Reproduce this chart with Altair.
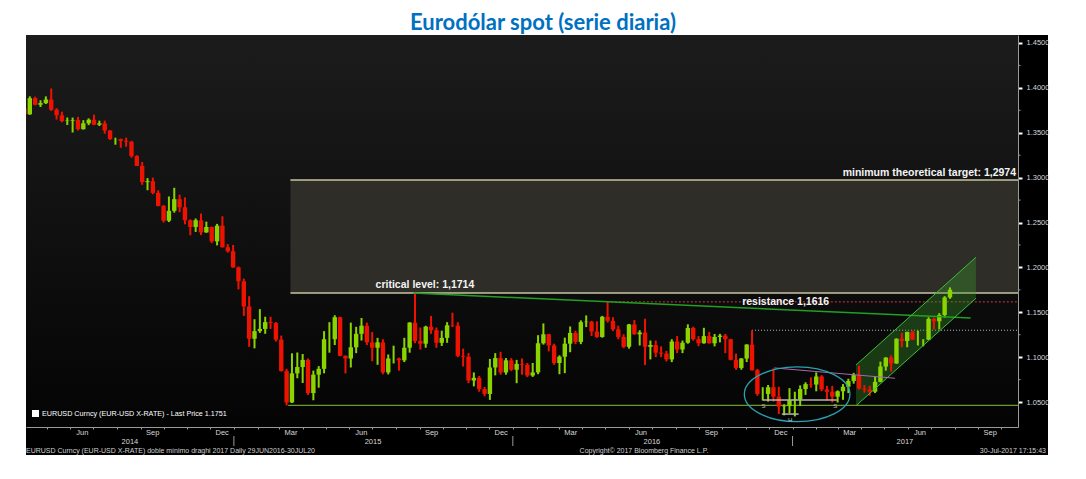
import altair as alt
import pandas as pd

W, H = 992, 392
FONT = "Liberation Sans"
UP = "#8ad400"
DOWN = "#ee1200"

# ---------------- weekly EURUSD candles ----------------
first_open = 1.3770
week_close = [
    1.3705, 1.3885, 1.3812, 1.3830, 1.3870, 1.3757, 1.3695, 1.3630, 1.3635, 1.3642, 1.3540, 1.3605, 1.3645,
    1.3590, 1.3605, 1.3525, 1.3430, 1.3430, 1.3410, 1.3400, 1.3240, 1.3130, 1.2950, 1.2960, 1.2830, 1.2685,
    1.2520, 1.2630, 1.2760, 1.2670, 1.2525, 1.2450, 1.2525, 1.2390, 1.2450, 1.2290, 1.2465, 1.2225, 1.2180,
    1.2000, 1.1845, 1.1565, 1.1205, 1.1290, 1.1315, 1.1390, 1.1380, 1.1195, 1.0845, 1.0495, 1.0820, 1.0890,
    1.0970, 1.0600, 1.0805, 1.0870, 1.1200, 1.1200, 1.1445, 1.1015, 1.0985, 1.1110, 1.1260, 1.1350, 1.1165,
    1.1105, 1.1165, 1.0830, 1.0985, 1.0985, 1.0965, 1.1105, 1.1385, 1.1180, 1.1150, 1.1340, 1.1300, 1.1160,
    1.1215, 1.1355, 1.1350, 1.1015, 1.1005, 1.0740, 1.0770, 1.0645, 1.0590, 1.0885, 1.0990, 1.0830, 1.0965,
    1.0860, 1.0925, 1.0915, 1.0795, 1.0830, 1.1155, 1.1255, 1.1130, 1.0935, 1.1005, 1.1150, 1.1270, 1.1170,
    1.1390, 1.1395, 1.1285, 1.1225, 1.1450, 1.1405, 1.1310, 1.1225, 1.1115, 1.1365, 1.1255, 1.1275, 1.1115,
    1.1135, 1.1050, 1.1040, 1.0975, 1.1175, 1.1085, 1.1160, 1.1325, 1.1200, 1.1155, 1.1235, 1.1155, 1.1225,
    1.1240, 1.1200, 1.0970, 1.0880, 1.0985, 1.1140, 1.0855, 1.0590, 1.0590, 1.0665, 1.0560, 1.0450, 1.0455,
    1.0520,
    1.0530, 1.0645, 1.0700, 1.0695, 1.0785, 1.0640, 1.0615, 1.0560, 1.0620, 1.0670, 1.0735, 1.0800, 1.0650,
    1.0640, 1.0615, 1.0725, 1.0895, 1.0995, 1.0930, 1.1205, 1.1180, 1.1280, 1.1195, 1.1195, 1.1195, 1.1425,
    1.1400, 1.1470, 1.1665, 1.1751,
]
week_high = [
    1.3807, 1.3906, 1.3902, 1.3862, 1.3905, 1.3993, 1.3774, 1.3735, 1.3670, 1.3669, 1.3677, 1.3640, 1.3660,
    1.3701, 1.3635, 1.3635, 1.3530, 1.3445, 1.3435, 1.3445, 1.3410, 1.3250, 1.3175, 1.2995, 1.3000, 1.2860,
    1.2695, 1.2790, 1.2887, 1.2810, 1.2780, 1.2535, 1.2545, 1.2600, 1.2510, 1.2455, 1.2485, 1.2570, 1.2260,
    1.2250, 1.2010, 1.1875, 1.1679, 1.1423, 1.1535, 1.1450, 1.1450, 1.1390, 1.1240, 1.0870, 1.1043, 1.1052,
    1.1035, 1.0985, 1.0850, 1.0900, 1.1290, 1.1390, 1.1467, 1.1450, 1.1020, 1.1385, 1.1338, 1.1436, 1.1385,
    1.1280, 1.1215, 1.1200, 1.1030, 1.1128, 1.0995, 1.1215, 1.1390, 1.1714, 1.1330, 1.1350, 1.1460, 1.1330,
    1.1295, 1.1390, 1.1495, 1.1390, 1.1095, 1.1045, 1.0830, 1.0790, 1.0670, 1.0980, 1.1045, 1.1060, 1.0990,
    1.0990, 1.0970, 1.0985, 1.0935, 1.0935, 1.1245, 1.1376, 1.1260, 1.1150, 1.1020, 1.1217, 1.1342, 1.1295,
    1.1410, 1.1465, 1.1405, 1.1400, 1.1460, 1.1616, 1.1445, 1.1350, 1.1255, 1.1370, 1.1415, 1.1300, 1.1428,
    1.1185, 1.1185, 1.1120, 1.1070, 1.1200, 1.1235, 1.1185, 1.1366, 1.1340, 1.1235, 1.1327, 1.1282, 1.1258,
    1.1260, 1.1260, 1.1205, 1.1040, 1.0990, 1.1145, 1.1300, 1.0870, 1.0665, 1.0690, 1.0874, 1.0670, 1.0475,
    1.0655,
    1.0615, 1.0685, 1.0720, 1.0775, 1.0830, 1.0800, 1.0680, 1.0680, 1.0630, 1.0700, 1.0760, 1.0825, 1.0905,
    1.0690, 1.0680, 1.0780, 1.0950, 1.1000, 1.1020, 1.1210, 1.1270, 1.1285, 1.1295, 1.1295, 1.1200, 1.1445,
    1.1440, 1.1490, 1.1680, 1.1777,
]
week_low = [
    1.3672, 1.3700, 1.3806, 1.3787, 1.3820, 1.3743, 1.3647, 1.3617, 1.3586, 1.3503, 1.3525, 1.3535, 1.3585,
    1.3585, 1.3575, 1.3490, 1.3420, 1.3367, 1.3333, 1.3345, 1.3222, 1.3130, 1.2920, 1.2860, 1.2815, 1.2680,
    1.2500, 1.2505, 1.2610, 1.2615, 1.2480, 1.2358, 1.2395, 1.2360, 1.2385, 1.2270, 1.2245, 1.2220, 1.2165,
    1.1995, 1.1755, 1.1460, 1.1115, 1.1098, 1.1270, 1.1260, 1.1315, 1.1175, 1.0840, 1.0462, 1.0490, 1.0765,
    1.0712, 1.0580, 1.0520, 1.0660, 1.0820, 1.1050, 1.1135, 1.1010, 1.0819, 1.0885, 1.1045, 1.1185, 1.1135,
    1.0955, 1.0915, 1.0810, 1.0808, 1.0930, 1.0850, 1.0945, 1.1050, 1.1155, 1.1085, 1.1105, 1.1260, 1.1105,
    1.1125, 1.1160, 1.1335, 1.1000, 1.0896, 1.0710, 1.0675, 1.0615, 1.0565, 1.0524, 1.0797, 1.0805, 1.0805,
    1.0845, 1.0710, 1.0805, 1.0778, 1.0780, 1.0810, 1.1140, 1.1065, 1.0915, 1.0810, 1.0822, 1.1055, 1.1145,
    1.1145, 1.1335, 1.1235, 1.1215, 1.1217, 1.1385, 1.1290, 1.1200, 1.1100, 1.1095, 1.1250, 1.1130, 1.0912,
    1.0975, 1.1000, 1.1000, 1.0952, 1.0945, 1.1045, 1.1045, 1.1150, 1.1185, 1.1122, 1.1150, 1.1150, 1.1120,
    1.1165, 1.1045, 1.0965, 1.0860, 1.0860, 1.0945, 1.0850, 1.0570, 1.0518, 1.0505, 1.0505, 1.0366, 1.0352,
    1.0375,
    1.0340, 1.0455, 1.0580, 1.0660, 1.0620, 1.0620, 1.0520, 1.0495, 1.0495, 1.0525, 1.0600, 1.0705, 1.0640,
    1.0605, 1.0570, 1.0600, 1.0720, 1.0850, 1.0840, 1.0925, 1.1110, 1.1110, 1.1190, 1.1130, 1.1120, 1.1190,
    1.1310, 1.1310, 1.1440, 1.1650,
]

# ---------------- annotation levels ----------------
critical_level = 1.1714
target_level = 1.2974
resistance_level = 1.1616
support_level = 1.0462
nov_spike_level = 1.1300
box_start = "2015-03-16"
support_start = "2015-03-13"
resistance_start = "2016-05-03"
nov_spike_start = "2016-11-09"

trend_dates = ["2015-08-24", "2017-08-22"]
trend_prices = [1.1714, 1.1435]
channel_dates = ["2017-03-25", "2017-08-29"]
channel_lower = [1.0459, 1.1656]
channel_upper = [1.0912, 1.2113]
purple_dates = ["2016-12-08", "2017-05-15"]
purple_prices = [1.0880, 1.0765]
neck_dates = ["2016-11-23", "2017-02-28"]
neck_level = 1.0522
head_dates = ["2016-12-18", "2017-01-09"]
head_level = 1.0366
ellipse_date = "2017-01-07"
ellipse_price = 1.0587

year_labels = ["2014", "2015", "2016", "2017"]
year_label_dates = ["2014-08-18", "2015-07-02", "2016-07-01", "2017-05-28"]
year_breaks = ["2015-01-01", "2016-01-01", "2017-01-01"]
y_ticks = [1.05, 1.10, 1.15, 1.20, 1.25, 1.30, 1.35, 1.40, 1.45]
y_minor_ticks = [1.075, 1.125, 1.175, 1.225, 1.275, 1.325, 1.375, 1.425]

# ---------------- frames ----------------
dates = pd.date_range("2014-04-02", periods=len(week_close), freq="7D")
opens = [first_open] + week_close[:-1]
candles = pd.DataFrame({"date": dates, "open": opens, "close": week_close,
                        "high": week_high, "low": week_low})
candles["dir"] = ["up" if c >= o else "down" for o, c in zip(opens, week_close)]

one = pd.DataFrame({"k": [0]})

x_scale = alt.Scale(domain=[alt.DateTime(year=2014, month=4, date=4),
                            alt.DateTime(year=2017, month=10, date=23)], nice=False)
y_scale = alt.Scale(domain=[1.0222, 1.4589], nice=False, zero=False)

month_ticks = [alt.DateTime(year=y, month=m, date=1)
               for y in range(2014, 2018) for m in range(1, 13)
               if (2014, 4) < (y, m) <= (2017, 10)]

x_axis = alt.Axis(values=month_ticks,
                  labelExpr="month(datum.value) % 3 == 2 ? timeFormat(datum.value, '%b') : ''",
                  labelOffset=11.5, tickSize=2, tickColor="#9a9a9a", domainColor="#9a9a9a",
                  labelColor="#d8d8d8", labelFont=FONT, labelFontSize=7.5, labelPadding=3,
                  labelBaseline="middle", labelOverlap=False, labelFlush=False, grid=False,
                  title=None, zindex=2)
y_axis = alt.Axis(orient="right", values=y_ticks, format=".4f", tickSize=4, tickWidth=2,
                  tickColor="#ffffff", domainColor="#9a9a9a", labelColor="#d8d8d8",
                  labelFont=FONT, labelFontSize=7.5, labelPadding=4, grid=False, title=None,
                  zindex=2)


def X(field="date"):
    return alt.X(f"{field}:T", scale=x_scale, axis=x_axis)


def Y(field="price"):
    return alt.Y(f"{field}:Q", scale=y_scale, axis=y_axis)


def hline(start, level, **kw):
    df = pd.DataFrame({"date": pd.to_datetime([start]), "price": [level]})
    return alt.Chart(df).mark_rule(**kw).encode(x=X(), x2=alt.value(W), y=Y())


def segment(d, p, **kw):
    df = pd.DataFrame({"d1": pd.to_datetime([d[0]]), "d2": pd.to_datetime([d[1]]),
                       "p1": [p[0]], "p2": [p[1]]})
    return alt.Chart(df).mark_rule(**kw).encode(x=X("d1"), x2="d2:T", y=Y("p1"), y2="p2:Q")


# backgrounds
bg_black = alt.Chart(one).mark_rect(color="#000000").encode(
    x=alt.value(0), x2=alt.value(W + 30), y=alt.value(0), y2=alt.value(H + 28))
bg_plot = alt.Chart(one).mark_rect(
    color=alt.LinearGradient(gradient="linear",
                             stops=[alt.GradientStop(offset=0, color="#1c1c1d"),
                                    alt.GradientStop(offset=1, color="#040405")],
                             x1=0, x2=0, y1=0, y2=1)
).encode(x=alt.value(0), x2=alt.value(W), y=alt.value(0), y2=alt.value(H))

# minor ticks of the price axis
minor_df = pd.DataFrame({"price": y_minor_ticks})
minor = alt.Chart(minor_df).mark_rule(color="#9a9a9a", strokeWidth=1).encode(
    x=alt.value(W), x2=alt.value(W + 2.5), y=Y())

# target box
box_df = pd.DataFrame({"date": pd.to_datetime([box_start]), "lo": [critical_level], "hi": [target_level]})
box = alt.Chart(box_df).mark_rect(color="#2e2d28").encode(
    x=X(), x2=alt.value(W), y=Y("lo"), y2="hi:Q")
box_top = hline(box_start, target_level, color="#c8c3a2", strokeWidth=1.5)
box_bottom = hline(box_start, critical_level, color="#c8c3a2", strokeWidth=1.5)

support = hline(support_start, support_level, color="#6e9a26", strokeWidth=1.3)
resist = hline(resistance_start, resistance_level, color="#c83a3a", strokeWidth=1, strokeDash=[2, 2])
spike = hline(nov_spike_start, nov_spike_level, color="#b8b8b8", strokeWidth=1, strokeDash=[1, 2])

# channel fill
ch_df = pd.DataFrame({"date": pd.to_datetime(channel_dates), "lo": channel_lower, "hi": channel_upper})
channel_fill = alt.Chart(ch_df).mark_area(color="#3c9a28", opacity=0.34).encode(
    x=X(), y=Y("lo"), y2="hi:Q")

# candles
dir_color = alt.Color("dir:N", scale=alt.Scale(domain=["up", "down"], range=[UP, DOWN]), legend=None)
wicks = alt.Chart(candles).mark_rule(strokeWidth=2, clip=True).encode(
    x=X(), y=Y("low"), y2="high:Q", color=dir_color)
bodies = alt.Chart(candles).mark_rule(strokeWidth=4.4, clip=True).encode(
    x=X(), y=Y("open"), y2="close:Q", color=dir_color)

trend = segment(trend_dates, trend_prices, color="#22a022", strokeWidth=1.5)
ch_lo = segment(channel_dates, channel_lower, color="#38c038", strokeWidth=1)
ch_hi = segment(channel_dates, channel_upper, color="#38c038", strokeWidth=1)
purple = segment(purple_dates, purple_prices, color="#a868a8", strokeWidth=1)
neck = segment(neck_dates, [neck_level, neck_level], color="#b4b4b4", strokeWidth=1.5)
head = segment(head_dates, [head_level, head_level], color="#b4b4b4", strokeWidth=1.5)

ell_df = pd.DataFrame({"date": pd.to_datetime([ellipse_date]), "price": [ellipse_price]})
ellipse = alt.Chart(ell_df).mark_point(
    shape="M -1 0 A 1 0.52 0 1 1 1 0 A 1 0.52 0 1 1 -1 0 Z", size=11150, filled=False,
    stroke="#2aa2b0", strokeWidth=1.3, opacity=1).encode(x=X(), y=Y())

hs_df = pd.DataFrame({"date": pd.to_datetime(["2016-11-24", "2016-12-29", "2017-02-26"]),
                      "price": [neck_level, head_level, neck_level], "t": ["S", "H", "S"]})
hs_text = alt.Chart(hs_df).mark_text(font=FONT, fontSize=6, color="#bbbbbb", dy=6).encode(
    x=X(), y=Y(), text="t:N")

# annotation texts
ann_style = dict(font=FONT, fontSize=10.5, fontWeight="bold", color="#f4f4f4")
crit_df = pd.DataFrame({"date": pd.to_datetime(["2015-09-08"]), "price": [critical_level],
                        "t": ["critical level: 1,1714"]})
crit_text = alt.Chart(crit_df).mark_text(dy=-8, **ann_style).encode(x=X(), y=Y(), text="t:N")
res_df = pd.DataFrame({"date": pd.to_datetime(["2016-12-23"]), "price": [resistance_level],
                       "t": ["resistance 1,1616"]})
res_text = alt.Chart(res_df).mark_text(baseline="middle", **ann_style).encode(x=X(), y=Y(), text="t:N")
tgt_df = pd.DataFrame({"price": [target_level], "t": ["minimum theoretical target: 1,2974"]})
tgt_text = alt.Chart(tgt_df).mark_text(dy=-7, align="right", **ann_style).encode(
    x=alt.value(W - 2), y=Y(), text="t:N")

# legend in plot
leg_sq = alt.Chart(one).mark_rect(color="#ffffff").encode(
    x=alt.value(6), x2=alt.value(13), y=alt.value(375), y2=alt.value(382))
leg_tx = alt.Chart(one).mark_text(text="EURUSD Curncy (EUR-USD X-RATE) - Last Price 1.1751",
                                  font=FONT, fontSize=7.2, color="#ffffff", align="left",
                                  baseline="middle").encode(x=alt.value(16), y=alt.value(378.5))

# year labels and separators
yl_df = pd.DataFrame({"date": pd.to_datetime(year_label_dates), "t": year_labels})
year_text = alt.Chart(yl_df).mark_text(font=FONT, fontSize=7.5, color="#d8d8d8", baseline="middle").encode(
    x=X(), y=alt.value(H + 14.5), text="t:N")
yb_df = pd.DataFrame({"date": pd.to_datetime(year_breaks)})
year_sep = alt.Chart(yb_df).mark_rule(color="#9a9a9a", strokeWidth=1).encode(
    x=X(), y=alt.value(H + 9), y2=alt.value(H + 19))

# footer
foot_style = dict(font=FONT, fontSize=7, color="#d0d0d0", baseline="alphabetic")
foot_l = alt.Chart(one).mark_text(
    text="EURUSD Curncy (EUR-USD X-RATE) doble mínimo draghi 2017  Daily 29JUN2016-30JUL20",
    align="left", **foot_style).encode(x=alt.value(0), y=alt.value(H + 26))
foot_c = alt.Chart(one).mark_text(text="Copyright© 2017 Bloomberg Finance L.P.", align="center",
                                  **foot_style).encode(x=alt.value(618), y=alt.value(H + 26))
foot_r = alt.Chart(one).mark_text(text="30-Jul-2017 17:15:43", align="right",
                                  **foot_style).encode(x=alt.value(W + 28), y=alt.value(H + 26))

title = alt.Chart(one).mark_text(text="Eurodólar spot (serie diaria)", font="Lato", fontSize=22,
                                 fontWeight="bold", color="#0070C0", align="center",
                                 baseline="middle").encode(x=alt.value(517), y=alt.value(-12))

chart = alt.layer(
    bg_black, bg_plot, minor, box, box_top, box_bottom, support, resist, spike, channel_fill,
    wicks, bodies, trend, ch_lo, ch_hi, purple, neck, head, ellipse, hs_text,
    crit_text, res_text, tgt_text, leg_sq, leg_tx, year_text, year_sep,
    foot_l, foot_c, foot_r, title,
).properties(
    width=W, height=H,
    padding={"left": 18, "top": 27, "right": 50, "bottom": 30},
    autosize=alt.AutoSizeParams(type="none"),
).configure(background="#ffffff").configure_view(strokeWidth=0)

chart.save("out.html", embed_options={"renderer": "svg", "actions": False})
